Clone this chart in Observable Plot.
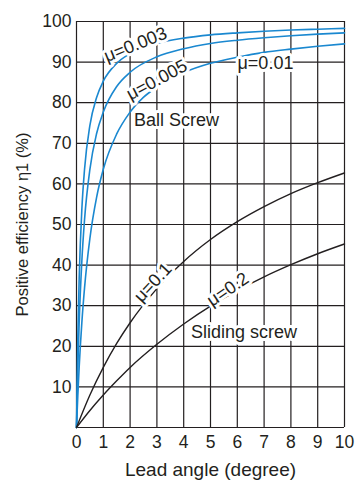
<!DOCTYPE html>
<html>
<head>
<meta charset="utf-8">
<script src="https://cdn.jsdelivr.net/npm/d3@7"></script>
<script src="https://cdn.jsdelivr.net/npm/@observablehq/plot@0.6"></script>
<style>
  html, body { margin: 0; padding: 0; background: #fff; }
</style>
</head>
<body>
<div id="chart"></div>
<script>
// Lead angles (degree) used for the ball screw curves
const ballAngles = [0, 0.05, 0.1, 0.2, 0.3, 0.5, 0.75, 1, 1.5, 2, 3, 4, 5, 6, 7, 8, 9, 10];
const mu003 = [0, 22.5, 36.8, 53.8, 63.6, 74.4, 81.3, 85.3, 89.7, 92.1, 94.6, 95.9, 96.7, 97.2, 97.6, 97.9, 98.1, 98.3];
const mu005 = [0, 14.9, 25.9, 41.1, 51.2, 63.6, 72.4, 77.7, 84.0, 87.5, 91.3, 93.3, 94.6, 95.4, 96.0, 96.5, 96.9, 97.2];
const mu001 = [0, 8.0, 14.9, 25.9, 34.4, 46.6, 56.7, 63.6, 72.3, 77.7, 83.9, 87.4, 89.7, 91.2, 92.4, 93.2, 93.9, 94.5];

// Lead angles for sliding screw curves
const slideAngles = [0, 0.5, 1, 1.5, 2, 3, 4, 5, 6, 7, 8, 9, 10];
const mu01 = [0, 8.0, 14.8, 20.7, 25.8, 34.2, 40.9, 46.3, 50.7, 54.4, 57.6, 60.3, 62.7];
const mu02 = [0, 4.2, 8.0, 11.5, 14.8, 20.5, 25.5, 29.9, 33.7, 37.1, 40.1, 42.8, 45.2];

// Tick values
const xTicks = [0, 1, 2, 3, 4, 5, 6, 7, 8, 9, 10];
const yTicks = [10, 20, 30, 40, 50, 60, 70, 80, 90, 100];
const yGrid = [0, 10, 20, 30, 40, 50, 60, 70, 80, 90, 100];

// Annotation texts and anchor points (data coordinates)
const labelTexts = ["μ=0.003", "μ=0.005", "μ=0.01", "Ball Screw", "μ=0.1", "μ=0.2", "Sliding screw"];
const labelX = [2.2, 3.0, 7.05, 3.73, 2.85, 5.65, 6.25];
const labelY = [94.3, 85.6, 89.7, 75.8, 35.7, 34.0, 23.5];
const labelAngle = [-22, -28, 0, 0, -47, -34, 0];

const BLUE = "#1a88d0";
const INK = "#231f20";

const ballSeries = [
  {name: "0.003", vals: mu003},
  {name: "0.005", vals: mu005},
  {name: "0.01", vals: mu001}
].flatMap(s => ballAngles.map((a, i) => ({series: s.name, x: a, y: s.vals[i]})));

const slideSeries = [
  {name: "0.1", vals: mu01},
  {name: "0.2", vals: mu02}
].flatMap(s => slideAngles.map((a, i) => ({series: s.name, x: a, y: s.vals[i]})));

const labels = labelTexts.map((t, i) => ({text: t, x: labelX[i], y: labelY[i], r: labelAngle[i]}));

const chart = Plot.plot({
  width: 356,
  height: 483,
  marginLeft: 76,
  marginRight: 12,
  marginTop: 21,
  marginBottom: 56,
  style: {fontFamily: "'Liberation Sans', Arial, sans-serif", fontSize: "17px", color: INK, background: "#fff"},
  x: {domain: [0, 10]},
  y: {domain: [0, 100]},
  marks: [
    Plot.ruleX(xTicks, {stroke: INK, strokeWidth: 1.2}),
    Plot.ruleY(yGrid, {stroke: INK, strokeWidth: 1.2}),
    Plot.axisX({ticks: xTicks, tickSize: 0, tickPadding: 8, tickFormat: d => String(d), fontSize: 17.5, label: null}),
    Plot.axisX({ticks: [], tickSize: 0, fontSize: 19,
      label: "Lead angle (degree)", labelAnchor: "center", labelArrow: "none", labelOffset: 48}),
    Plot.axisY({ticks: yTicks, tickSize: 0, tickPadding: 5, fontSize: 17.5, label: null}),
    Plot.axisY({ticks: [], tickSize: 0, fontSize: 16.5,
      label: "Positive efficiency η1 (%)", labelAnchor: "center", labelArrow: "none", labelOffset: 60}),
    Plot.line(ballSeries, {x: "x", y: "y", z: "series", stroke: BLUE, strokeWidth: 1.6, curve: "monotone-x"}),
    Plot.line(slideSeries, {x: "x", y: "y", z: "series", stroke: INK, strokeWidth: 1.4, curve: "monotone-x"}),
    Plot.text(labels, {x: "x", y: "y", text: "text", rotate: "r", fill: INK, fontSize: 18,
      stroke: "white", strokeWidth: 6, paintOrder: "stroke"})
  ]
});
document.getElementById("chart").appendChild(chart);
</script>
</body>
</html>
